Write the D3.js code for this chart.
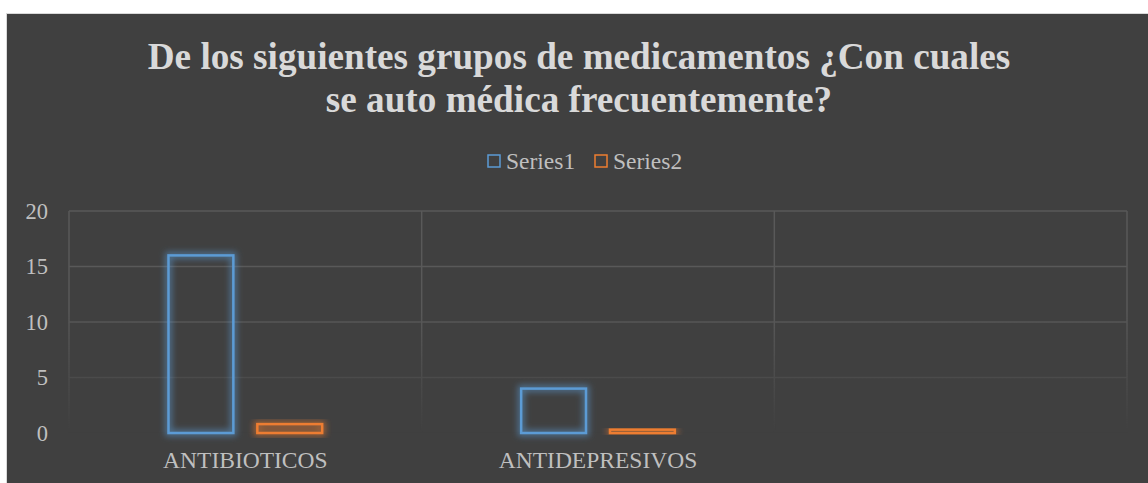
<!DOCTYPE html>
<html>
<head>
<meta charset="utf-8">
<script src="https://cdn.jsdelivr.net/npm/d3@7"></script>
<style>
  body { margin: 0; background: #fff; }
  text { font-family: "Liberation Serif", "Times New Roman", serif; }
</style>
</head>
<body>
<svg id="chart"></svg>
<script>
// chart data
const categories = ['ANTIBIOTICOS', 'ANTIDEPRESIVOS', ''];
const seriesNames = ['Series1', 'Series2'];
const series1 = [16, 4, null];
const series2 = [0.8, 0.3, null];
const yTicks = [0, 5, 10, 15, 20];
const titleLines = ['De los siguientes grupos de medicamentos ¿Con cuales', 'se auto médica frecuentemente?'];

const colors = { Series1: '#5b9bd5', Series2: '#ed7d31' };

const config = {
  width: 1148, height: 483,
  margin: { top: 211, bottom: 50, left: 69, right: 21 }
};

const svg = d3.select('#chart')
    .attr('width', config.width)
    .attr('height', config.height);

// background panel
svg.append('rect')
    .attr('x', 6.5).attr('y', 13.5)
    .attr('width', 1160).attr('height', 500)
    .attr('fill', '#404040')
    .attr('stroke', '#d9d9d9');

const defs = svg.append('defs');
const fade = defs.append('linearGradient')
    .attr('id', 'fade')
    .attr('gradientUnits', 'userSpaceOnUse')
    .attr('x1', 0).attr('x2', 0)
    .attr('y1', config.margin.top).attr('y2', config.height - config.margin.bottom);
fade.append('stop').attr('offset', '0%').attr('stop-color', '#fff').attr('stop-opacity', 1);
fade.append('stop').attr('offset', '45%').attr('stop-color', '#fff').attr('stop-opacity', 1);
fade.append('stop').attr('offset', '100%').attr('stop-color', '#fff').attr('stop-opacity', 0);
defs.append('mask').attr('id', 'gridMask')
  .append('rect')
    .attr('x', 0).attr('y', 0)
    .attr('width', config.width).attr('height', config.height)
    .attr('fill', 'url(#fade)');

// soft glow round the bar outlines
const glow = defs.append('filter').attr('id', 'glow')
    .attr('x', '-50%').attr('y', '-50%').attr('width', '200%').attr('height', '200%');
glow.append('feMorphology').attr('in', 'SourceGraphic').attr('operator', 'dilate').attr('radius', 2).attr('result', 'fat');
glow.append('feGaussianBlur').attr('in', 'fat').attr('stdDeviation', 3).attr('result', 'blur');
glow.append('feComponentTransfer').attr('in', 'blur').attr('result', 'soft')
  .append('feFuncA').attr('type', 'linear').attr('slope', 0.55);
const merge = glow.append('feMerge');
merge.append('feMergeNode').attr('in', 'soft');
merge.append('feMergeNode').attr('in', 'SourceGraphic');

const innerW = config.width - config.margin.left - config.margin.right;
const innerH = config.height - config.margin.top - config.margin.bottom;

const x0 = d3.scaleBand()
    .domain(categories)
    .range([config.margin.left, config.margin.left + innerW]);

const x1 = d3.scaleBand()
    .domain(seriesNames)
    .range([0, x0.bandwidth()])
    .paddingInner(0.27)
    .paddingOuter(1.12);

const y = d3.scaleLinear()
    .domain([0, 20])
    .range([config.margin.top + innerH, config.margin.top]);

// gridlines
const grid = svg.append('g').attr('mask', 'url(#gridMask)');
grid.selectAll('.hgrid')
  .data(yTicks)
  .join('line')
    .attr('x1', config.margin.left).attr('x2', config.margin.left + innerW)
    .attr('y1', d => y(d)).attr('y2', d => y(d))
    .attr('stroke', '#595959').attr('stroke-width', 1.5);
grid.selectAll('.vgrid')
  .data(categories.map((c, i) => i).concat([categories.length]))
  .join('line')
    .attr('x1', i => config.margin.left + i * x0.step())
    .attr('x2', i => config.margin.left + i * x0.step())
    .attr('y1', config.margin.top).attr('y2', y(0))
    .attr('stroke', '#595959').attr('stroke-width', 1.5);

// y axis
const yAxis = d3.axisLeft(y).tickValues(yTicks).tickSize(0).tickPadding(21);
const yAxisG = svg.append('g')
    .attr('transform', `translate(${config.margin.left},0)`)
    .call(yAxis);
yAxisG.select('.domain').remove();
yAxisG.selectAll('text')
    .attr('fill', '#bfbfbf')
    .style('font-size', '22.5px')
    .style('font-family', '"Liberation Serif", serif');

// x axis
const xAxis = d3.axisBottom(x0).tickSize(0).tickPadding(18);
const xAxisG = svg.append('g')
    .attr('transform', `translate(0,${y(0)})`)
    .call(xAxis);
xAxisG.select('.domain').remove();
xAxisG.selectAll('text')
    .attr('fill', '#bfbfbf')
    .style('font-size', '23.5px')
    .style('font-family', '"Liberation Serif", serif');

// bars
const rows = categories.map((c, i) => ({ cat: c, values: [
  { key: 'Series1', value: series1[i] },
  { key: 'Series2', value: series2[i] }
]}));

svg.append('g').selectAll('g')
  .data(rows)
  .join('g')
    .attr('transform', d => `translate(${x0(d.cat)},0)`)
  .selectAll('rect')
  .data(d => d.values.filter(v => v.value != null))
  .join('rect')
    .attr('x', d => x1(d.key))
    .attr('width', x1.bandwidth())
    .attr('y', d => y(d.value))
    .attr('height', d => y(0) - y(d.value))
    .attr('fill', 'none')
    .attr('stroke', d => colors[d.key])
    .attr('stroke-width', 2.5)
    .attr('filter', 'url(#glow)');

// title
svg.append('text')
    .attr('x', 579).attr('y', 69)
    .attr('text-anchor', 'middle')
    .attr('fill', '#d9d9d9')
    .style('font-size', '37.2px')
    .style('font-weight', 'bold')
  .selectAll('tspan')
  .data(titleLines)
  .join('tspan')
    .attr('x', 579)
    .attr('dy', (d, i) => i === 0 ? 0 : 43)
    .text(d => d);

// legend
const legendX = { Series1: 488, Series2: 595 };
const legend = svg.append('g').selectAll('g')
  .data(seriesNames)
  .join('g')
    .attr('transform', d => `translate(${legendX[d]},155)`);
legend.append('rect')
    .attr('width', 12).attr('height', 12)
    .attr('fill', 'none')
    .attr('stroke', d => colors[d])
    .attr('stroke-width', 1.5);
legend.append('text')
    .attr('x', 18).attr('y', 14)
    .attr('fill', '#bfbfbf')
    .style('font-size', '23.5px')
    .text(d => d);
</script>
</body>
</html>
